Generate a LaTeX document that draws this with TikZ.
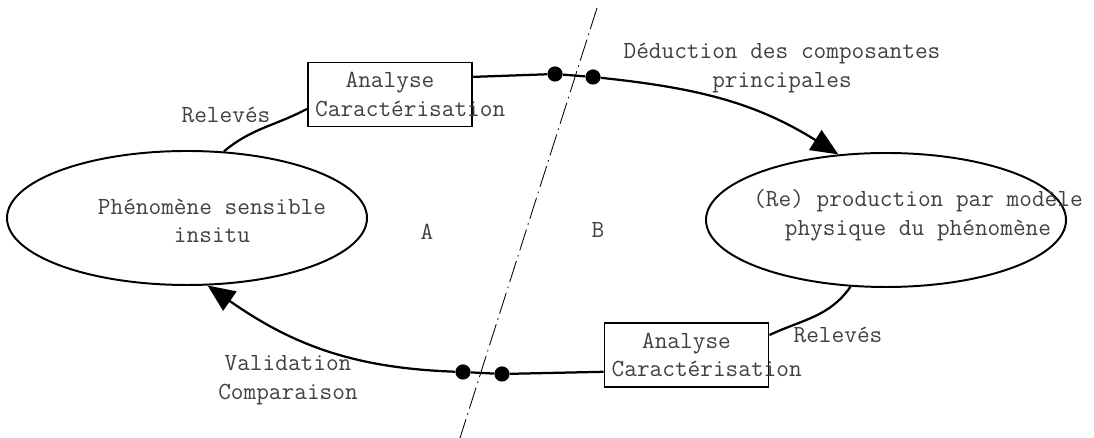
\documentclass[tikz,border=0pt]{standalone}
\usetikzlibrary{arrows.meta,shapes.geometric}

\begin{document}
\begin{tikzpicture}[auto,
  font=\ttfamily\fontsize{17.5}{20.5}\selectfont,
  every node/.style={text=black!75},
  phenom/.style={ellipse,draw=black,line width=1.4pt,minimum width=9cm,minimum height=3.35cm,inner sep=0pt},
  analyse/.style={rectangle,draw=black,line width=1.4pt,text width=3.74cm,inner sep=0.18cm,minimum height=1.6cm,align=center},
  jonction/.style={circle,fill=black,inner sep=0pt,minimum size=0.38cm},
  flow/.style={line width=1.6pt},
  fleche/.style={line width=1.6pt,-{Triangle[length=0.68cm,width=0.58cm]}}]
\useasboundingbox (0,0) rectangle (27.35,10.95);
\coordinate (coupe1) at (14.925,10.75);
\coordinate (coupe2) at (11.5,0);
\draw [line width=0.6pt,dash pattern=on 0.55cm off 0.12cm on 0.04cm off 0.12cm] (coupe1) -- (coupe2);
\node [phenom] (insitu) at (4.675,5.5) {};
\node [phenom] (modele) at (22.15,5.45) {};
\node [align=center] (insitutxt) at (5.3,5.425) {Phénomène sensible\\insitu};
\node [align=center] (modeletxt) at (22.95,5.575) {(Re) production par modèle\\physique du phénomène};
\node [analyse] (haut) at (9.75,8.5875) {Analyse\\Caractérisation};
\node [analyse] (bas) at (17.1625,2.075) {Analyse\\Caractérisation};
\node [jonction] (j1) at (13.875,9.1) {};
\node [jonction] (j2) at (14.825,9.025) {};
\node [jonction] (j3) at (11.575,1.65) {};
\node [jonction] (j4) at (12.55,1.6) {};
\node (releves1) at (5.65,8.075) {Relevés};
\node (releves2) at (20.95,2.575) {Relevés};
\node [align=center] (deduction) at (19.55,9.25) {Déduction des composantes\\principales};
\node [align=center] (validation) at (7.2,1.45) {Validation\\Comparaison};
\node (zoneA) at (10.675,5.15) {A};
\node (zoneB) at (14.95,5.2) {B};
\draw [flow] ([yshift=0.44cm]haut.east) -- (j1);
\draw [flow] (j1) -- (j2);
\draw [fleche] (j2) to[out=-6,in=148] (modele.126);
\draw [flow] (insitu.61) to[out=40,in=208] ([yshift=-0.36cm]haut.west);
\draw [flow] (modele.242) to[out=235,in=25] ([yshift=0.5cm]bas.east);
\draw [flow] ([yshift=-0.42cm]bas.west) -- (j4);
\draw [flow] (j4) -- (j3);
\draw [fleche] (j3) to[out=178,in=-35] (insitu.287);
\end{tikzpicture}
\end{document}
